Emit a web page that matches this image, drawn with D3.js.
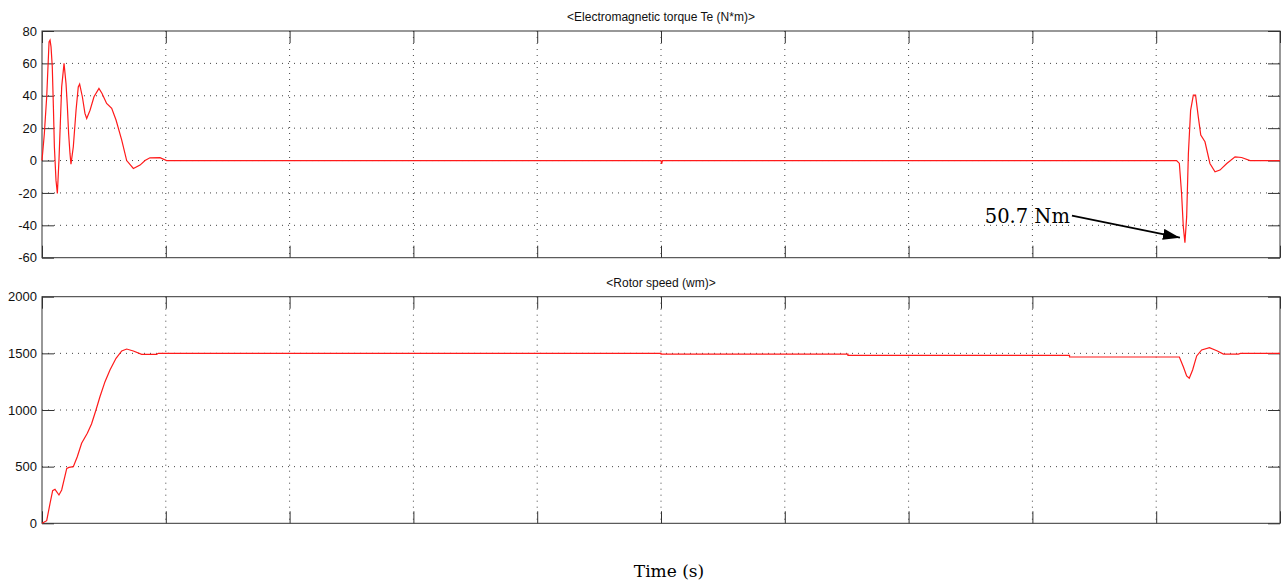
<!DOCTYPE html>
<html>
<head>
<meta charset="utf-8">
<script src="https://cdn.jsdelivr.net/npm/d3@7"></script>
<style>
    body { margin: 0; background: #fff; }
    svg { display: block; }
</style>
</head>
<body>
<svg id="scope-svg" width="1282" height="584"></svg>
<script>
// scope time axis: 10 divisions, no tick labels
const timeTicks = [0, 1, 2, 3, 4, 5, 6, 7, 8, 9, 10];
const torqueTicks = [-60, -40, -20, 0, 20, 40, 60, 80];
const speedTicks = [0, 500, 1000, 1500, 2000];

// [time, Te (N*m)]
const torque = [
    [0, 0], [0.019, 16.7], [0.038, 39.4], [0.057, 73.3], [0.065, 74.4], [0.073, 70.2],
    [0.083, 57.9], [0.092, 33.2], [0.1, 8.5], [0.113, -12.1], [0.124, -20.3], [0.137, 0.2],
    [0.148, 22.9], [0.159, 45.5], [0.178, 60], [0.194, 47.6], [0.205, 33.2], [0.215, 16.7],
    [0.226, 4.4], [0.234, -2.2], [0.253, 8.5], [0.275, 31.1], [0.293, 45.5], [0.304, 47.2],
    [0.326, 39.4], [0.347, 29.1], [0.361, 26], [0.388, 31.1], [0.42, 39.4], [0.46, 44.5],
    [0.485, 41.4], [0.522, 35.3], [0.563, 32.2], [0.598, 25], [0.644, 12.6], [0.684, 0],
    [0.738, -4.9], [0.792, -2.8], [0.832, 0], [0.872, 1.7], [0.953, 1.8], [1.007, 0],
    [5.0, 0], [5.005, -2], [5.012, 0],
    [9.165, 0], [9.187, -1.8], [9.205, -20.3], [9.219, -41], [9.232, -50.7], [9.246, -34.8],
    [9.26, 4.4], [9.278, 31], [9.3, 40.4], [9.318, 40.4], [9.34, 27], [9.36, 15.7],
    [9.394, 11.6], [9.434, -1.8], [9.475, -7], [9.515, -5.9], [9.57, -1.8], [9.637, 2.3],
    [9.69, 1.9], [9.758, 0], [10, 0]
];

// [time, wm (rpm)]
const speed = [
    [0, 0], [0.038, 23], [0.065, 176], [0.086, 288], [0.105, 300], [0.137, 250],
    [0.159, 294], [0.2, 485], [0.218, 494], [0.253, 500], [0.285, 588], [0.32, 706],
    [0.366, 794], [0.4, 876], [0.436, 1000], [0.468, 1117], [0.509, 1250], [0.549, 1353],
    [0.598, 1456], [0.644, 1521], [0.684, 1538], [0.738, 1521], [0.805, 1491], [0.926, 1491],
    [0.94, 1500], [5.0, 1500], [5.0, 1493], [6.51, 1493], [6.51, 1482], [8.3, 1482],
    [8.3, 1468], [9.187, 1468], [9.219, 1382], [9.246, 1300], [9.267, 1280], [9.294, 1353],
    [9.327, 1477], [9.367, 1530], [9.43, 1550], [9.49, 1523], [9.543, 1494], [9.664, 1494],
    [9.68, 1500], [10, 1500]
];

const peakLabel = "50.7 Nm";
const xLabel = "Time (s)";

const size = {
    width: 1282,
    height: 584,
    left: 42,
    right: 1280,
    tick: 12
};
const svg = d3.select('#scope-svg');

const x = d3.scaleLinear()
    .domain([0, 10])
    .range([size.left, size.right]);

function drawPanel(top, bottom, domain, ticks, data, title) {
    const y = d3.scaleLinear().domain(domain).range([bottom, top]);
    const g = svg.append("g");
    const h = bottom - top;
    const w = size.right - size.left;

    // dotted grid
    g.append("g")
        .selectAll("line")
        .data(ticks.slice(1, -1))
        .join("line")
        .attr("x1", size.left).attr("x2", size.right)
        .attr("y1", d => y(d)).attr("y2", d => y(d))
        .attr("stroke", "#444").attr("stroke-dasharray", "1,5");
    g.append("g")
        .selectAll("line")
        .data(timeTicks.slice(1, -1))
        .join("line")
        .attr("y1", top).attr("y2", bottom)
        .attr("x1", d => x(d)).attr("x2", d => x(d))
        .attr("stroke", "#444").attr("stroke-dasharray", "1,5");

    // axes with inward ticks
    const left = g.append("g")
        .attr("transform", `translate(${size.left},0)`)
        .call(d3.axisLeft(y).tickValues(ticks).tickSize(-size.tick).tickPadding(5)
            .tickFormat(d => String(d)));
    left.selectAll("text")
        .attr("font-family", "Liberation Sans, Arial, sans-serif")
        .attr("font-size", 13)
        .attr("fill", "#111");
    g.append("g")
        .attr("transform", `translate(${size.right},0)`)
        .call(d3.axisRight(y).tickValues(ticks).tickSize(-size.tick).tickFormat(""));
    g.append("g")
        .attr("transform", `translate(0,${top})`)
        .call(d3.axisTop(x).tickValues(timeTicks).tickSize(-size.tick).tickFormat(""));
    g.append("g")
        .attr("transform", `translate(0,${bottom})`)
        .call(d3.axisBottom(x).tickValues(timeTicks).tickSize(-size.tick).tickFormat(""));
    g.selectAll(".domain").remove();
    g.selectAll(".tick line").attr("stroke", "#333");

    g.append("rect")
        .attr("x", size.left).attr("y", top)
        .attr("width", w).attr("height", h)
        .attr("fill", "none")
        .attr("stroke", "#333");

    const line = d3.line()
        .x(d => x(d[0]))
        .y(d => y(d[1]));
    g.append("path")
        .datum(data)
        .attr("d", line)
        .attr("fill", "none")
        .attr("stroke", "#ff1a1a")
        .attr("stroke-width", 1.2);

    g.append("text")
        .attr("x", (size.left + size.right) / 2)
        .attr("y", top - 10)
        .attr("text-anchor", "middle")
        .attr("font-family", "Liberation Sans, Arial, sans-serif")
        .attr("font-size", 12)
        .attr("fill", "#111")
        .text(title);

    return y;
}

const yTorque = drawPanel(31, 257.7, [-60, 80], torqueTicks, torque, "<Electromagnetic torque Te (N*m)>");
drawPanel(296.7, 523.3, [0, 2000], speedTicks, speed, "<Rotor speed (wm)>");

// annotation at torque minimum
const peak = torque.reduce((a, b) => (b[1] < a[1] ? b : a));
const px = x(peak[0]), py = yTorque(peak[1]);

svg.append("defs").append("marker")
    .attr("id", "head")
    .attr("markerUnits", "userSpaceOnUse")
    .attr("markerWidth", 17).attr("markerHeight", 11)
    .attr("refX", 17).attr("refY", 5.5)
    .attr("orient", "auto")
    .append("path")
    .attr("d", "M0,0 L17,5.5 L0,11 Z")
    .attr("fill", "#000");

svg.append("line")
    .attr("x1", px - 113).attr("y1", py - 27)
    .attr("x2", px - 5).attr("y2", py - 5)
    .attr("stroke", "#000")
    .attr("stroke-width", 1.6)
    .attr("marker-end", "url(#head)");

svg.append("text")
    .attr("x", px - 115)
    .attr("y", py - 20)
    .attr("text-anchor", "end")
    .attr("font-family", "DejaVu Serif, serif")
    .attr("font-size", 19.5)
    .attr("fill", "#000")
    .text(peakLabel);

svg.append("text")
    .attr("x", 669)
    .attr("y", 577)
    .attr("text-anchor", "middle")
    .attr("font-family", "DejaVu Serif, serif")
    .attr("font-size", 17)
    .attr("fill", "#000")
    .text(xLabel);
</script>
</body>
</html>
